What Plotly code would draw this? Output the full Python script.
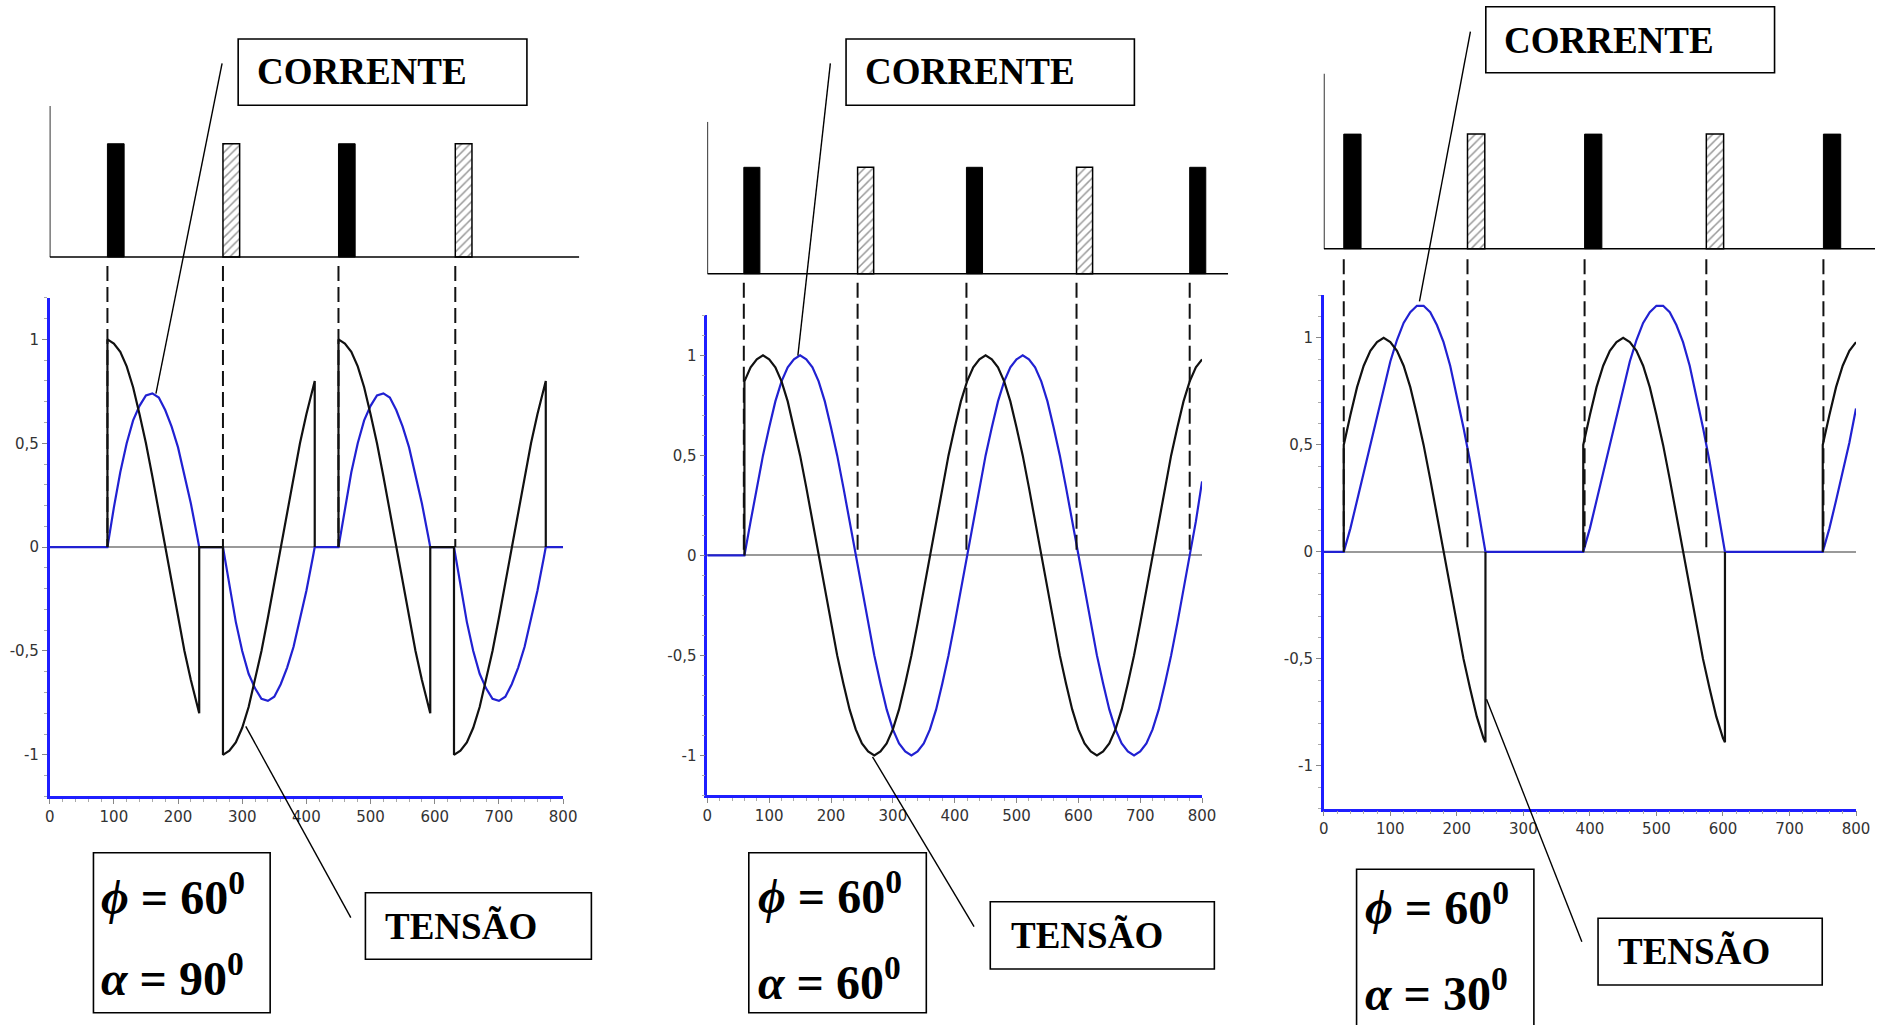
import plotly.graph_objects as go

W, H = 1889, 1025
# the photographed page maps paper x in [0,1] onto roughly [4, 1875] px;
# horizontal paper fractions are computed against that span
X_OFF, X_SPAN = 4.0, 1871.0

# ---------------- data ----------------
x_tick_vals = [0, 100, 200, 300, 400, 500, 600, 700, 800]
x_tick_text = ["0", "100", "200", "300", "400", "500", "600", "700", "800"]
y_tick_vals = [-1, -0.5, 0, 0.5, 1]
y_tick_text = ["-1", "-0,5", "0", "0,5", "1"]

# Panel 1: phi = 60, alpha = 90 (discontinuous conduction)
p1_v_theta = [90, 90, 100, 110, 120, 130, 140, 150, 160, 170, 180, 190, 200, 210, 220, 230, 233, 233,
              270, 270, 280, 290, 300, 310, 320, 330, 340, 350, 360, 370, 380, 390, 400, 410, 413, 413,
              None,
              450, 450, 460, 470, 480, 490, 500, 510, 520, 530, 540, 550, 560, 570, 580, 590, 593, 593,
              630, 630, 640, 650, 660, 670, 680, 690, 700, 710, 720, 730, 740, 750, 760, 770, 773, 773]
p1_v = [0, 1, .98, .94, .87, .77, .64, .5, .34, .17, 0, -.17, -.34, -.5, -.64, -.77, -.8, 0,
        0, -1, -.98, -.94, -.87, -.77, -.64, -.5, -.34, -.17, 0, .17, .34, .5, .64, .77, .8, 0,
        None,
        0, 1, .98, .94, .87, .77, .64, .5, .34, .17, 0, -.17, -.34, -.5, -.64, -.77, -.8, 0,
        0, -1, -.98, -.94, -.87, -.77, -.64, -.5, -.34, -.17, 0, .17, .34, .5, .64, .77, .8, 0]
p1_i_theta = [0, 90, 100, 110, 120, 130, 140, 150, 160, 170, 180, 190, 200, 210, 220, 230, 233,
              270, 280, 290, 300, 310, 320, 330, 340, 350, 360, 370, 380, 390, 400, 410, 413,
              450, 460, 470, 480, 490, 500, 510, 520, 530, 540, 550, 560, 570, 580, 590, 593,
              630, 640, 650, 660, 670, 680, 690, 700, 710, 720, 730, 740, 750, 760, 770, 773, 800]
p1_i = [0, 0, .19, .36, .50, .61, .68, .73, .74, .72, .66, .58, .48, .35, .21, .05, 0,
        0, -.19, -.36, -.50, -.61, -.68, -.73, -.74, -.72, -.66, -.58, -.48, -.35, -.21, -.05, 0,
        0, .19, .36, .50, .61, .68, .73, .74, .72, .66, .58, .48, .35, .21, .05, 0,
        0, -.19, -.36, -.50, -.61, -.68, -.73, -.74, -.72, -.66, -.58, -.48, -.35, -.21, -.05, 0, 0]
p1_fire = [90, 270, 450, 632]
p1_pulse_solid = [True, False, True, False]

# Panel 2: phi = 60, alpha = 60 (continuous conduction)
p2_v_theta = [60] + list(range(60, 801, 10))
p2_v = [0,
        .87, .94, .98, 1, .98, .94, .87, .77, .64, .5, .34, .17, 0, -.17, -.34, -.5, -.64, -.77,
        -.87, -.94, -.98, -1, -.98, -.94, -.87, -.77, -.64, -.5, -.34, -.17,
        0, .17, .34, .5, .64, .77, .87, .94, .98, 1, .98, .94, .87, .77, .64, .5, .34, .17,
        0, -.17, -.34, -.5, -.64, -.77, -.87, -.94, -.98, -1, -.98, -.94, -.87, -.77, -.64, -.5, -.34, -.17,
        0, .17, .34, .5, .64, .77, .87, .94, .98]
p2_i_theta = [0] + list(range(60, 801, 10))
p2_i = [0,
        0, .17, .34, .5, .64, .77, .87, .94, .98, 1, .98, .94, .87, .77, .64, .5, .34, .17,
        0, -.17, -.34, -.5, -.64, -.77, -.87, -.94, -.98, -1, -.98, -.94, -.87, -.77, -.64, -.5, -.34, -.17,
        0, .17, .34, .5, .64, .77, .87, .94, .98, 1, .98, .94, .87, .77, .64, .5, .34, .17,
        0, -.17, -.34, -.5, -.64, -.77, -.87, -.94, -.98, -1, -.98, -.94, -.87, -.77, -.64, -.5, -.34, -.17,
        0, .17, .37]
p2_fire = [59, 243, 419, 597, 780]
p2_pulse_solid = [True, False, True, False, True]

# Panel 3: phi = 60, alpha = 30
p3_v_theta = [30, 30, 40, 50, 60, 70, 80, 90, 100, 110, 120, 130, 140, 150, 160, 170, 180, 190, 200,
              210, 220, 230, 240, 243, 243,
              None,
              390, 390, 400, 410, 420, 430, 440, 450, 460, 470, 480, 490, 500, 510, 520, 530, 540, 550, 560,
              570, 580, 590, 600, 603, 603,
              None,
              750, 750, 760, 770, 780, 790, 800]
p3_v = [0, .5, .64, .77, .87, .94, .98, 1, .98, .94, .87, .77, .64, .5, .34, .17, 0, -.17, -.34,
        -.5, -.64, -.77, -.87, -.89, 0,
        None,
        0, .5, .64, .77, .87, .94, .98, 1, .98, .94, .87, .77, .64, .5, .34, .17, 0, -.17, -.34,
        -.5, -.64, -.77, -.87, -.89, 0,
        None,
        0, .5, .64, .77, .87, .94, .98]
p3_i_theta = [0, 30, 40, 50, 60, 70, 80, 90, 100, 110, 120, 130, 140, 150, 160, 170, 180, 190, 200,
              210, 220, 230, 240, 243,
              390, 400, 410, 420, 430, 440, 450, 460, 470, 480, 490, 500, 510, 520, 530, 540, 550, 560,
              570, 580, 590, 600, 603,
              750, 760, 770, 780, 790, 800]
p3_i = [0, 0, .11, .24, .37, .51, .64, .77, .89, .99, 1.07, 1.12, 1.15, 1.15, 1.12, 1.06, .98, .87, .73,
        .58, .42, .24, .06, 0,
        0, .11, .24, .37, .51, .64, .77, .89, .99, 1.07, 1.12, 1.15, 1.15, 1.12, 1.06, .98, .87, .73,
        .58, .42, .24, .06, 0,
        0, .11, .24, .37, .51, .67]
p3_fire = [30, 216, 392, 575, 751]
p3_pulse_solid = [True, False, True, False, True]

pulse_width = 26

panel_labels = [("60", "90"), ("60", "60"), ("60", "30")]

# ---------------- layout geometry (pixels) ----------------
geom = [
    dict(x0=48.7, x800=562.4, yzero=547.1, yunit=207.7, ptop=106.0, pbase=257.0, pend=578.6, ph=0.75),
    dict(x0=706.7, x800=1201.7, yzero=555.4, yunit=200.0, ptop=121.7, pbase=273.7, pend=1227.8, ph=0.70),
    dict(x0=1323.5, x800=1856.0, yzero=551.9, yunit=214.0, ptop=73.5, pbase=248.7, pend=1875.0, ph=0.654),
]

def px(x):
    return min(max((x - X_OFF) / X_SPAN, 0.0), 1.0)

def py(y):
    return 1 - y / H

panels = [
    (p1_v_theta, p1_v, p1_i_theta, p1_i, p1_fire, p1_pulse_solid),
    (p2_v_theta, p2_v, p2_i_theta, p2_i, p2_fire, p2_pulse_solid),
    (p3_v_theta, p3_v, p3_i_theta, p3_i, p3_fire, p3_pulse_solid),
]

AXIS_BLUE = "#1f1fff"
CUR_BLUE = "#2121d2"
VOLT_BLACK = "#111111"
TICK_FONT = dict(family="DejaVu Sans", size=15, color="#333333")

fig = go.Figure()
layout = {}

for k, (vt, vv, it, iv, fires, solid) in enumerate(panels):
    g = geom[k]
    n_main = k + 1
    n_ov = k + 4
    xm, ym = f"x{'' if n_main == 1 else n_main}", f"y{'' if n_main == 1 else n_main}"
    xo, yo = f"x{n_ov}", f"y{n_ov}"

    layout[f"xaxis{'' if n_main == 1 else n_main}"] = dict(
        domain=[px(g["x0"]), px(g["x800"])], range=[0, 800], anchor=ym,
        showline=True, linecolor=AXIS_BLUE, linewidth=2.5, mirror=False,
        ticks="outside", ticklen=5, tickwidth=1, tickcolor="#888888",
        tickvals=x_tick_vals, ticktext=x_tick_text, tickfont=TICK_FONT,
        showgrid=False, zeroline=False,
        minor=dict(dtick=20, ticks="outside", ticklen=3, tickcolor="#aaaaaa", showgrid=False),
    )
    layout[f"yaxis{'' if n_main == 1 else n_main}"] = dict(
        domain=[py(g["yzero"] + 1.2 * g["yunit"]), py(g["yzero"] - 1.2 * g["yunit"])],
        range=[-1.2, 1.2], anchor=xm,
        showline=True, linecolor=AXIS_BLUE, linewidth=2.5,
        ticks="outside", ticklen=5, tickwidth=1, tickcolor="#888888",
        tickvals=y_tick_vals, ticktext=y_tick_text, tickfont=TICK_FONT,
        showgrid=False, zeroline=True, zerolinecolor="#999999", zerolinewidth=2,
        minor=dict(dtick=0.1, ticks="outside", ticklen=3, tickcolor="#aaaaaa", showgrid=False),
    )

    theta_end = 800 * (g["pend"] - g["x0"]) / (g["x800"] - g["x0"])
    y_lo = -(g["yzero"] - g["pbase"]) / (g["pbase"] - g["ptop"])
    layout[f"xaxis{n_ov}"] = dict(domain=[px(g["x0"]), px(g["pend"])], range=[0, theta_end],
                                  anchor=yo, visible=False)
    layout[f"yaxis{n_ov}"] = dict(domain=[py(g["yzero"]), py(g["ptop"])], range=[y_lo, 1],
                                  anchor=xo, visible=False)

    fig.add_trace(go.Scatter(x=it, y=iv, mode="lines", line=dict(color=CUR_BLUE, width=2.2),
                             xaxis=xm, yaxis=ym, hoverinfo="skip"))
    fig.add_trace(go.Scatter(x=vt, y=vv, mode="lines", line=dict(color=VOLT_BLACK, width=2.2),
                             xaxis=xm, yaxis=ym, hoverinfo="skip"))

    fig.add_trace(go.Scatter(x=[0, 0, None, 0, theta_end], y=[1, 0, None, 0, 0], mode="lines",
                             line=dict(color="black", width=1.6), xaxis=xo, yaxis=yo, hoverinfo="skip"))
    dx, dy = [], []
    for f in fires:
        dx += [f, f, None]
        dy += [-0.06, y_lo, None]
    fig.add_trace(go.Scatter(x=dx, y=dy, mode="lines",
                             line=dict(color="#111111", width=2, dash="15px,6px"),
                             xaxis=xo, yaxis=yo, hoverinfo="skip"))
    sx = [f + pulse_width / 2 for f, s in zip(fires, solid) if s]
    hx = [f + pulse_width / 2 for f, s in zip(fires, solid) if not s]
    fig.add_trace(go.Bar(x=sx, y=[g["ph"]] * len(sx), width=[pulse_width] * len(sx), base=0,
                         marker=dict(color="black", line=dict(color="black", width=1)),
                         xaxis=xo, yaxis=yo, hoverinfo="skip"))
    fig.add_trace(go.Bar(x=hx, y=[g["ph"]] * len(hx), width=[pulse_width] * len(hx), base=0,
                         marker=dict(color="white", line=dict(color="black", width=1.5),
                                     pattern=dict(shape="/", fgcolor="#333333", size=6, solidity=0.25)),
                         xaxis=xo, yaxis=yo, hoverinfo="skip"))

# ---------------- boxes, labels, leader lines ----------------
corr_boxes = [(237.3, 39.0, 526.2, 105.3, 254.0, 71.7),
              (845.5, 39.0, 1134.0, 105.3, 862.0, 71.7),
              (1485.6, 6.7, 1774.5, 72.7, 1502.0, 40.0)]
tens_boxes = [(364.6, 892.7, 590.7, 959.3, 382.0, 926.5),
              (989.8, 901.7, 1214.0, 969.0, 1008.5, 935.5),
              (1597.9, 918.3, 1822.2, 985.0, 1615.5, 951.5)]
phi_boxes = [(92.5, 852.7, 269.3, 1012.7, 98.0, 894.0, 974.5),
             (748.2, 852.7, 925.8, 1012.7, 755.0, 893.0, 979.0),
             (1356.3, 869.3, 1533.7, 1040.0, 1363.0, 904.0, 989.5)]
leaders = [((221.2, 63.3), (155.0, 393.6)), ((350.0, 917.7), (244.9, 726.4)),
           ((829.8, 63.3), (797.3, 355.7)), ((973.6, 926.7), (872.0, 756.8)),
           ((1470.2, 31.7), (1419.2, 301.4)), ((1581.7, 941.7), (1486.3, 699.2))]

shapes = []
annotations = []
SERIF = "Liberation Serif, Times New Roman, serif"

def box(x0, y0, x1, y1):
    shapes.append(dict(type="rect", xref="paper", yref="paper", x0=px(x0), x1=px(x1),
                       y0=py(y1), y1=py(y0), line=dict(color="black", width=1.6),
                       fillcolor="rgba(0,0,0,0)"))

def text(x, y, s, size):
    annotations.append(dict(xref="paper", yref="paper", x=px(x), y=py(y), text=s,
                            showarrow=False, xanchor="left", yanchor="middle",
                            font=dict(family=SERIF, size=size, color="black")))

for (x0, y0, x1, y1, tx, ty) in corr_boxes:
    box(x0, y0, x1, y1)
    text(tx, ty, "<b>CORRENTE</b>", 37)
for (x0, y0, x1, y1, tx, ty) in tens_boxes:
    box(x0, y0, x1, y1)
    text(tx, ty, "<b>TENSÃO</b>", 37)
for (x0, y0, x1, y1, tx, ty1, ty2), (phi, alpha) in zip(phi_boxes, panel_labels):
    box(x0, y0, x1, y1)
    text(tx, ty1, f"<b><i>ϕ</i> = {phi}<sup>0</sup></b>", 48)
    text(tx, ty2, f"<b><i>α</i> = {alpha}<sup>0</sup></b>", 48)
for (a, b) in leaders:
    shapes.append(dict(type="line", xref="paper", yref="paper", x0=px(a[0]), y0=py(a[1]),
                       x1=px(b[0]), y1=py(b[1]), line=dict(color="black", width=1.4)))

fig.update_layout(
    width=W, height=H, autosize=False, margin=dict(l=0, r=0, t=0, b=0),
    paper_bgcolor="white", plot_bgcolor="rgba(0,0,0,0)",
    showlegend=False, separators=",.", barmode="overlay",
    shapes=shapes, annotations=annotations, **layout,
)

fig.write_html("out.html", config={"responsive": False, "displayModeBar": False})
